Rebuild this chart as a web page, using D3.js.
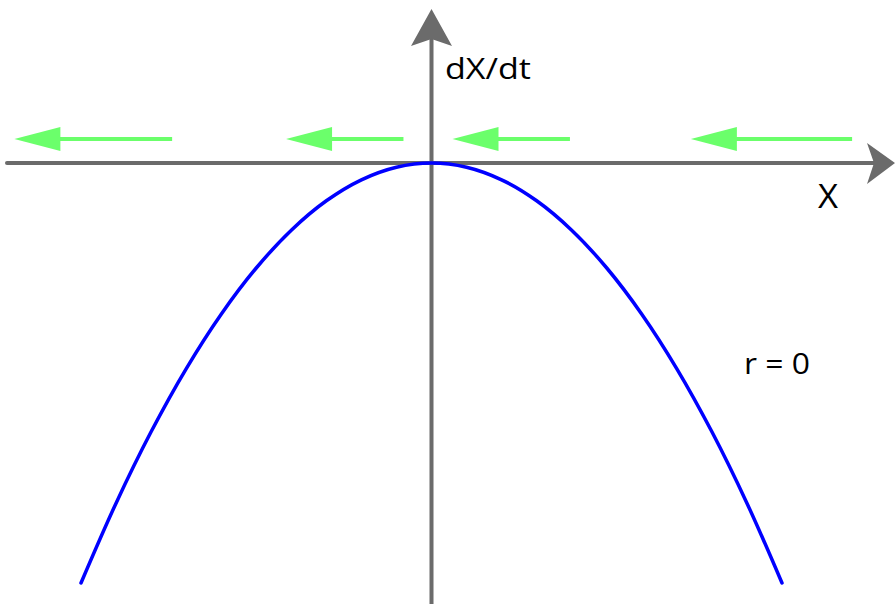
<!DOCTYPE html>
<meta charset="utf-8">
<script src="https://d3js.org/d3.v7.js"></script>
<style>
  body { margin: 0; background: #fff; }
  text { font-family: "Open Sans", sans-serif; fill: #000; }
</style>
<svg id="my_dataviz" width="895" height="604"></svg>
<script>

// The curve: dX/dt = rX - X^2 with r = 0
const xValues = [-1, -0.9, -0.8, -0.7, -0.6, -0.5, -0.4, -0.3, -0.2, -0.1, 0,
                 0.1, 0.2, 0.3, 0.4, 0.5, 0.6, 0.7, 0.8, 0.9, 1];
const dxdtValues = [-1, -0.81, -0.64, -0.49, -0.36, -0.25, -0.16, -0.09, -0.04, -0.01, 0,
                    -0.01, -0.04, -0.09, -0.16, -0.25, -0.36, -0.49, -0.64, -0.81, -1];

// Flow arrows along the X axis (start, end in X units) - all pointing left
const flowStart = [-0.74, -0.08, 0.395, 1.2];
const flowEnd   = [-1.19, -0.415, 0.06, 0.74];

const labels = ["dX/dt", "X", "r = 0"];

const svg = d3.select("svg"),
  width = +svg.attr("width"),
  height = +svg.attr("height");

const x = d3.scaleLinear().domain([-1, 1]).range([81, 782]);
const y = d3.scaleLinear().domain([-1, 0]).range([583, 163]);

const axisColor = "#6b6b6b";
const green = "#6bff6b";

// axes
svg.append("line")
  .attr("x1", 7).attr("x2", 876)
  .attr("y1", y(0)).attr("y2", y(0))
  .attr("stroke", axisColor).attr("stroke-width", 4).attr("stroke-linecap", "round");
svg.append("line")
  .attr("x1", x(0)).attr("x2", x(0))
  .attr("y1", 604).attr("y2", 38)
  .attr("stroke", axisColor).attr("stroke-width", 4);

// axis arrow heads
svg.append("path")
  .attr("d", `M895,${y(0)} L867,143 L874,${y(0)} L867,184 Z`)
  .attr("fill", axisColor);
svg.append("path")
  .attr("d", `M${x(0)},9 L452,46 L${x(0)},39 L411,46 Z`)
  .attr("fill", axisColor);

// parabola
const line = d3.line()
  .x((d, i) => x(xValues[i]))
  .y(d => y(d))
  .curve(d3.curveCatmullRom);

svg.append("path")
  .datum(dxdtValues)
  .attr("d", line)
  .attr("fill", "none")
  .attr("stroke", "#0000ff")
  .attr("stroke-width", 3.5)
  .attr("stroke-linecap", "round");

// green flow arrows
const ay = 139;
flowStart.forEach(function(s, i) {
  const x0 = x(s), x1 = x(flowEnd[i]);
  svg.append("line")
    .attr("x1", x0).attr("x2", x1 + 40)
    .attr("y1", ay).attr("y2", ay)
    .attr("stroke", green).attr("stroke-width", 4);
  svg.append("path")
    .attr("d", `M${x1},${ay} L${x1 + 46},${ay - 12} L${x1 + 46},${ay + 12} Z`)
    .attr("fill", green);
});

// labels (stretched a bit to match the wide lettering)
svg.append("text").attr("x", 445).attr("y", 79).style("font-size", "30px")
  .attr("textLength", 86).attr("lengthAdjust", "spacingAndGlyphs").text(labels[0]);
svg.append("text").attr("x", 818).attr("y", 208).style("font-size", "32px")
  .attr("textLength", 20).attr("lengthAdjust", "spacingAndGlyphs").text(labels[1]);
svg.append("text").attr("x", 744).attr("y", 374).style("font-size", "29px")
  .attr("textLength", 66).attr("lengthAdjust", "spacingAndGlyphs").text(labels[2]);

</script>
